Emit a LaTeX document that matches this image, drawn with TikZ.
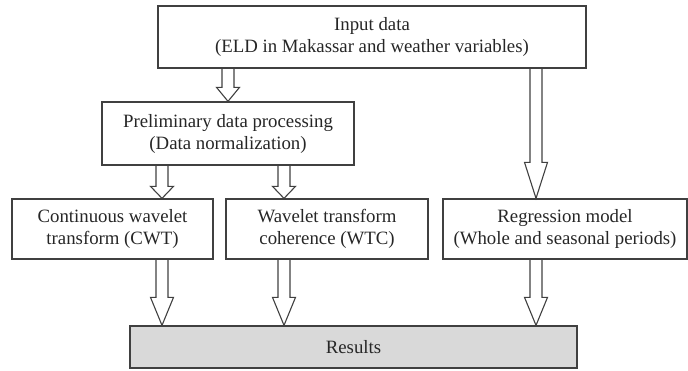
\documentclass[tikz,border=0pt]{standalone}
\usepackage{fontspec}
\setmainfont{Liberation Serif}
\usetikzlibrary{calc}

% hollow block arrow: column, from node, to node, head length
\newcommand{\hollowarrow}[4]{%
  \draw[arrowline] ($(#1|-#2.south)+(-\shafthalf,0)$)
    -- ($(#1|-#3.north)+(-\shafthalf,-#4)$)
    -- ($(#1|-#3.north)+(-\headhalf,-#4)$)
    -- (#1|-#3.north)
    -- ($(#1|-#3.north)+(\headhalf,-#4)$)
    -- ($(#1|-#3.north)+(\shafthalf,-#4)$)
    -- ($(#1|-#2.south)+(\shafthalf,0)$);
}

\begin{document}
\begin{tikzpicture}[x=0.5pt,y=-0.5pt,
    box/.style={draw=black!75, line width=0.65pt, align=center,
      text=black!85, font=\fontsize{9.4}{11}\selectfont, inner sep=0pt},
    resultbox/.style={box, fill=black!15},
    arrowline/.style={draw=black!75, line width=0.55pt, line join=miter}]
  \pgfmathsetmacro{\shafthalf}{6}
  \pgfmathsetmacro{\headhalf}{11.5}
  \useasboundingbox (0,0) rectangle (688,370);
  %
  \node[box, minimum width=214pt, minimum height=31pt] (input) at (372,37)
    {Input data\\(ELD in Makassar and weather variables)};
  \node[box, minimum width=126pt, minimum height=31.5pt] (prep) at (228,133.5)
    {Preliminary data processing\\(Data normalization)};
  \node[box, minimum width=100.5pt, minimum height=30pt] (cwt) at (112.5,229)
    {Continuous wavelet\\transform (CWT)};
  \node[box, minimum width=101pt, minimum height=30pt] (wtc) at (327,229)
    {Wavelet transform\\coherence (WTC)};
  \node[box, minimum width=122pt, minimum height=30pt] (reg) at (565,229)
    {Regression model\\(Whole and seasonal periods)};
  \node[resultbox, minimum width=223.5pt, minimum height=21pt] (results) at (353.5,347)
    {Results};
  %
  \coordinate (colcwt) at (162,0);
  \coordinate (colwtc) at (284,0);
  \coordinate (colreg) at (536,0);
  %
  \hollowarrow{prep}{input}{prep}{14}
  \hollowarrow{colreg}{input}{reg}{36}
  \hollowarrow{colcwt}{prep}{cwt}{12}
  \hollowarrow{colwtc}{prep}{wtc}{12}
  \foreach \col/\src in {colcwt/cwt, colwtc/wtc, colreg/reg} {
    \hollowarrow{\col}{\src}{results}{28}
  }
\end{tikzpicture}
\end{document}
